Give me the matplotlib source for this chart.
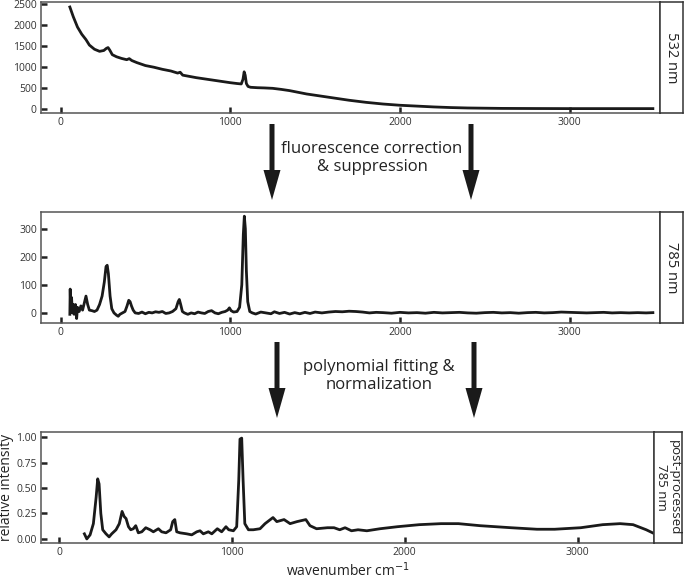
import matplotlib

matplotlib.use("Agg")
import matplotlib.pyplot as plt
from matplotlib.patches import FancyArrow

plt.rcParams["font.family"] = ["Open Sans", "DejaVu Sans"]

# 532 nm raw spectrum (wavenumber cm-1, counts)
wn_532 = [55, 75, 100, 125, 150, 170, 200, 230, 255, 270, 280, 290, 305, 330, 360,
          390, 405, 420, 450, 500, 550, 600, 650, 690, 705, 720, 760, 800, 850, 900,
          950, 1000, 1040, 1065, 1075, 1082, 1088, 1095, 1105, 1120, 1160, 1200, 1250,
          1300, 1350, 1400, 1450, 1500, 1600, 1700, 1800, 1900, 2000, 2100, 2200,
          2300, 2400, 2500, 2600, 2800, 3000, 3200, 3490]
int_532 = [2430, 2200, 1950, 1780, 1650, 1520, 1420, 1370, 1390, 1440, 1460, 1400,
           1290, 1240, 1200, 1170, 1195, 1150, 1100, 1030, 990, 940, 900, 850, 870,
           800, 770, 740, 710, 680, 650, 620, 600, 590, 700, 880, 800, 600, 530, 510,
           500, 495, 485, 460, 430, 390, 350, 320, 260, 200, 150, 110, 80, 60, 40,
           25, 15, 10, 5, 2, 0, 0, 0]

# 785 nm after fluorescence correction
wn_785 = [55, 57, 60, 65, 70, 75, 80, 88, 95, 100, 110, 120, 130, 140, 150, 160, 170,
          185, 200, 215, 230, 245, 258, 268, 275, 282, 292, 302, 315, 330, 340, 350,
          365, 380, 392, 402, 410, 418, 428, 440, 460, 480, 500, 520, 540, 560, 580,
          600, 620, 640, 660, 680, 693, 700, 708, 718, 730, 750, 770, 790, 810, 830,
          850, 870, 890, 910, 930, 950, 970, 985, 995, 1005, 1020, 1040, 1055, 1068,
          1077, 1083, 1089, 1095, 1103, 1115, 1130, 1150, 1180, 1210, 1240, 1260,
          1290, 1320, 1350, 1380, 1410, 1440, 1470, 1500, 1540, 1580, 1620, 1660,
          1700, 1740, 1780, 1820, 1860, 1900, 1950, 2000, 2050, 2100, 2150, 2200,
          2250, 2300, 2350, 2400, 2450, 2500, 2550, 2600, 2650, 2700, 2750, 2800,
          2850, 2900, 2950, 3000, 3050, 3100, 3150, 3200, 3250, 3300, 3350, 3400,
          3450, 3490]
int_785 = [-5, 85, 10, 55, 0, 30, -5, 30, -20, 20, 5, 25, 10, 35, 60, 30, 10, 8, 5,
           10, 30, 60, 110, 165, 170, 140, 60, 15, 0, -8, -12, -5, 0, 5, 25, 45, 40,
           25, 10, 0, -2, 3, -3, 2, 0, 4, 2, 5, -2, 0, 5, 15, 40, 48, 30, 5, 0, -5,
           0, -3, 3, 0, -2, 5, 8, 0, -3, 2, 5, 10, 18, 8, 3, 5, 20, 100, 280, 345,
           300, 150, 40, 5, 0, -4, 3, 0, -3, 4, -2, 2, -4, 1, -3, 2, -2, 3, 0, 3, 5,
           4, 6, 5, 3, 0, 2, 1, -1, 2, 0, 1, -1, 2, 0, 1, 2, 0, -1, 1, 2, 0, 1, -1,
           1, 2, 0, 1, 3, 2, 1, 0, 1, 2, 0, 1, 0, 1, 0, 1]

# 785 nm post-processed, normalised
wn_post = [147, 161, 180, 199, 215, 224, 232, 242, 253, 272, 290, 305, 330, 349, 365,
           377, 388, 402, 415, 430, 444, 459, 479, 502, 527, 546, 575, 594, 619, 646,
           658, 670, 681, 700, 739, 768, 797, 816, 835, 864, 884, 916, 941, 966, 982,
           1009, 1028, 1040, 1047, 1057, 1065, 1075, 1096, 1124, 1163, 1192, 1238,
           1260, 1302, 1337, 1377, 1428, 1452, 1490, 1553, 1591, 1624, 1655, 1692,
           1730, 1781, 1857, 1958, 2084, 2210, 2311, 2436, 2615, 2765, 2867, 3018,
           3145, 3246, 3321, 3397, 3440]
int_post = [0.05, 0.00, 0.04, 0.15, 0.41, 0.59, 0.54, 0.25, 0.09, 0.05, 0.02, 0.05,
            0.09, 0.15, 0.27, 0.22, 0.20, 0.12, 0.09, 0.10, 0.13, 0.06, 0.07, 0.11,
            0.09, 0.07, 0.10, 0.07, 0.06, 0.09, 0.17, 0.19, 0.07, 0.06, 0.05, 0.04,
            0.07, 0.08, 0.05, 0.07, 0.05, 0.10, 0.07, 0.12, 0.09, 0.08, 0.12, 0.58,
            0.98, 0.99, 0.58, 0.15, 0.09, 0.09, 0.10, 0.15, 0.21, 0.17, 0.19, 0.15,
            0.17, 0.19, 0.13, 0.10, 0.11, 0.11, 0.09, 0.11, 0.08, 0.09, 0.08, 0.10,
            0.12, 0.14, 0.15, 0.15, 0.13, 0.11, 0.095, 0.095, 0.11, 0.14, 0.15, 0.14,
            0.09, 0.055]

x_ticks = [0, 1000, 2000, 3000]
panel_labels = ["532 nm", "785 nm", "post-processed\n785 nm"]

W, H = 685, 581
fig = plt.figure(figsize=(W / 100, H / 100), dpi=100)


def px_rect(l, t, r, b):
    return [l / W, 1 - b / H, (r - l) / W, (b - t) / H]


def style_axes(ax):
    for sp in ax.spines.values():
        sp.set_color("#555555")
        sp.set_linewidth(1.1)
    ax.tick_params(direction="in", length=4, width=1.8, color="#222222",
                   labelsize=7.5, labelcolor="#333333", pad=3)
    ax.set_xticks(x_ticks)


def label_box(rect, text, size):
    bx = fig.add_axes(rect)
    bx.set_xticks([])
    bx.set_yticks([])
    for sp in bx.spines.values():
        sp.set_color("#333333")
        sp.set_linewidth(1.1)
    bx.text(0.5, 0.5, text, rotation=-90, ha="center", va="center",
            fontsize=size, color="#222222", linespacing=0.95, transform=bx.transAxes)


line_kw = dict(color="#1a1a1a", lw=2.0, solid_joinstyle="round")

ax1 = fig.add_axes(px_rect(41, 2, 660, 113))
ax1.plot(wn_532, int_532, **line_kw)
ax1.set_xlim(-115, 3532)
ax1.set_ylim(-105, 2550)
ax1.set_yticks([0, 500, 1000, 1500, 2000, 2500])
style_axes(ax1)
label_box(px_rect(660, 2, 683, 113), panel_labels[0], 10.5)

ax2 = fig.add_axes(px_rect(41, 212, 660, 323))
ax2.plot(wn_785, int_785, **line_kw)
ax2.set_xlim(-115, 3532)
ax2.set_ylim(-36, 360)
ax2.set_yticks([0, 100, 200, 300])
style_axes(ax2)
label_box(px_rect(660, 212, 683, 323), panel_labels[1], 10.5)

ax3 = fig.add_axes(px_rect(41, 432, 654, 543))
ax3.plot(wn_post, int_post, **line_kw)
ax3.set_xlim(-104, 3442)
ax3.set_ylim(-0.04, 1.05)
ax3.set_yticks([0, 0.25, 0.5, 0.75, 1.0])
ax3.set_yticklabels(["0.00", "0.25", "0.50", "0.75", "1.00"])
style_axes(ax3)
label_box(px_rect(654, 432, 682, 543), panel_labels[2], 9.5)

# overlay in pixel units for the arrows, captions and shared axis titles
ov = fig.add_axes([0, 0, 1, 1], facecolor="none")
ov.set_xlim(0, W)
ov.set_ylim(H, 0)
ov.axis("off")

for xc, y0, y1 in [(272, 124, 200), (471, 124, 200), (277, 342, 418), (474, 342, 418)]:
    ov.add_patch(FancyArrow(xc, y0, 0, y1 - y0, width=5, head_width=17,
                            head_length=30, length_includes_head=True,
                            color="#1a1a1a", lw=0))

ov.text(372, 158, "fluorescence correction\n& suppression", ha="center",
        va="center", fontsize=12, color="#222222", linespacing=1.2)
ov.text(379, 376, "polynomial fitting &\nnormalization", ha="center",
        va="center", fontsize=12, color="#222222", linespacing=1.2)
ov.text(7, 487, "relative intensity", rotation=90, ha="center", va="center",
        fontsize=10, color="#222222")
ov.text(348, 571, "wavenumber cm$^{-1}$", ha="center", va="center",
        fontsize=10, color="#222222")

fig.savefig("out.png", dpi=100)
